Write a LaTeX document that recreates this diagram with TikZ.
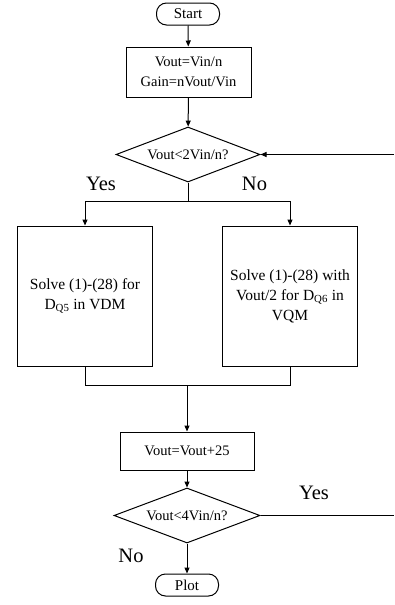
\documentclass[tikz,border=0pt]{standalone}
\usepackage{fontspec}
\setmainfont{Liberation Serif}
\usetikzlibrary{arrows.meta,shapes.geometric}
\begin{document}
\begin{tikzpicture}[x=1pt,y=-1pt,line width=1pt,
  arr/.style={-{Triangle[length=6pt,width=5pt]}},
  pill/.style={draw,rounded corners=10pt,inner sep=0pt,minimum width=63pt,minimum height=22pt,font=\fontsize{15}{18}\selectfont},
  procbox/.style={draw,inner sep=0pt,align=center,font=\fontsize{14.5}{20}\selectfont},
  bigbox/.style={draw,inner sep=0pt,align=center,minimum width=135pt,minimum height=140pt,font=\fontsize{15.5}{20}\selectfont},
  decis/.style={draw,diamond,inner sep=0pt,aspect=2.6,minimum width=144pt,minimum height=55pt,font=\fontsize{14.5}{18}\selectfont},
  lbl/.style={inner sep=0pt,font=\fontsize{20.5}{24}\selectfont}]
\useasboundingbox (0,0) rectangle (394,605);
\node[pill] (start) at (188,14) {Start};
\node[procbox,minimum width=125pt,minimum height=50pt] (init) at (188.5,72) {Vout=Vin/n\\Gain=nVout/Vin};
\node[decis] (d1) at (188,154.5) {Vout<2Vin/n?};
\node[bigbox] (vdm) at (85,296) {Solve (1)-(28) for\\D\textsubscript{Q5} in VDM};
\node[bigbox] (vqm) at (290,296) {Solve (1)-(28) with\\Vout/2 for D\textsubscript{Q6} in\\VQM};
\node[procbox,minimum width=134pt,minimum height=38pt] (inc) at (187,451) {Vout=Vout+25};
\node[decis,minimum width=146pt] (d2) at (187,515.5) {Vout<4Vin/n?};
\node[pill] (plot) at (187,585) {Plot};
\node[lbl] (yes1) at (101,183.5) {Yes};
\node[lbl] (no1) at (254.5,183.5) {No};
\node[lbl] (yes2) at (314,492.5) {Yes};
\node[lbl] (no2) at (131,556) {No};
\coordinate (split) at (188,201);
\coordinate (splitL) at (85,201);
\coordinate (splitR) at (290,201);
\coordinate (mergeL) at (85,385);
\coordinate (mergeR) at (290,385);
\coordinate (merge) at (187,385);
\coordinate (loopin) at (394,154.5);
\coordinate (loopout) at (394,515.5);
\draw[arr] (start) -- (init);
\draw[arr] (init) -- (d1);
\draw (d1.south) -- (split);
\draw (splitL) -- (splitR);
\draw[arr] (splitL) -- (vdm.north);
\draw[arr] (splitR) -- (vqm.north);
\draw (vdm.south) -- (mergeL) -- (mergeR) -- (vqm.south);
\draw[arr] (merge) -- (inc.north);
\draw[arr] (inc) -- (d2);
\draw[arr] (d2.south) -- (plot.north);
\draw (d2.east) -- (loopout);
\draw[arr] (loopin) -- (d1.east);
\end{tikzpicture}
\end{document}
